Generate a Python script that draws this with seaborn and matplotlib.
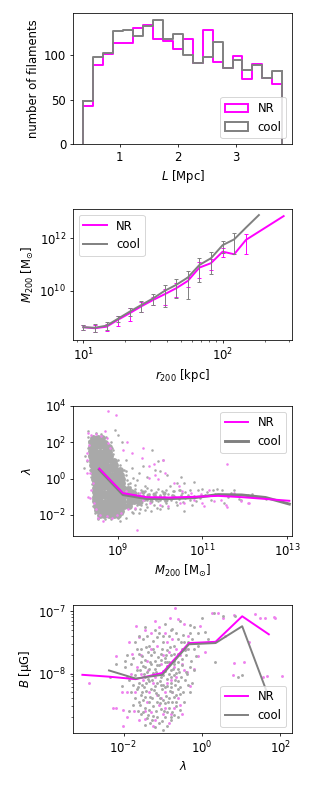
import numpy as np
import pandas as pd
import matplotlib
matplotlib.use("Agg")
import matplotlib.pyplot as plt
from matplotlib.patches import Patch
from matplotlib.ticker import NullLocator
import seaborn as sns

plt.rcParams["font.size"] = 12

# ---------------- panel 1: filament length histograms ----------------
L_EDGE_MIN, L_EDGE_MAX, N_BINS = 0.371, 3.80, 20
HIST_NR = [43, 89, 101, 114, 114, 131, 134, 118, 116, 107,
           118, 91, 128, 92, 85, 99, 73, 90, 74, 67]
HIST_COOL = [48, 98, 102, 127, 128, 122, 133, 140, 118, 124,
             100, 91, 98, 115, 85, 95, 83, 89, 74, 82]

# ---------------- panel 2: M200 vs r200 ----------------
R200_NR = [10, 12.1, 14.7, 17.8, 21.6, 26.1, 31.6, 38.3, 46.4, 56.2,
           68.1, 82.5, 100, 121, 147, 274]
LOGM_NR = [8.60, 8.56, 8.62, 8.89, 9.14, 9.40, 9.64, 9.86, 10.09, 10.37,
           10.88, 11.05, 11.49, 11.39, 11.94, 12.85]
RELERR_NR = [0.23, 0.28, 0.30, 0.43, 0.50, 0.40, 0.35, 0.60, 0.53, 0.40,
             0.60, 0.45, 0.38, 0.0, 0.72, 0.0]
R200_COOL = [10, 12.1, 14.7, 17.8, 21.6, 26.1, 31.6, 38.3, 46.4, 56.2,
             68.1, 82.5, 100, 121, 147, 182]
LOGM_COOL = [8.60, 8.58, 8.66, 8.93, 9.20, 9.45, 9.70, 9.99, 10.22, 10.50,
             10.98, 11.24, 11.74, 11.96, 12.41, 12.89]
RELERR_COOL = [0.23, 0.34, 0.34, 0.23, 0.34, 0.46, 0.42, 0.75, 0.69, 0.85,
               0.78, 0.75, 0.50, 0.72, 0.0, 0.0]

# ---------------- panel 3: lambda vs M200 ----------------
LOGM3_BINS = [8.57, 9.13, 9.69, 10.25, 10.81, 11.37, 11.93, 12.49, 13.05]
LOGLAM3_NR = [0.55, -0.80, -1.02, -1.04, -1.00, -0.95, -1.02, -1.12, -1.22]
LOGLAM3_COOL = [0.50, -0.88, -1.10, -1.10, -1.05, -0.88, -0.90, -1.04, -1.40]

# dense core of the cool halo cloud (log M, log lambda)
COOL3_CORE = [
    (8.42, 2.25), (8.53, 2.22), (8.64, 2.24),
    (8.38, 2.0), (8.49, 1.98), (8.60, 2.02), (8.71, 1.97),
    (8.37, 1.75), (8.48, 1.73), (8.59, 1.77), (8.70, 1.74), (8.79, 1.72),
    (8.37, 1.5), (8.48, 1.52), (8.59, 1.48), (8.70, 1.5), (8.80, 1.47),
    (8.38, 1.25), (8.49, 1.23), (8.60, 1.27), (8.71, 1.25), (8.82, 1.22),
    (8.39, 1.0), (8.50, 1.02), (8.61, 0.98), (8.72, 1.0), (8.83, 1.03), (8.92, 0.97),
    (8.40, 0.75), (8.51, 0.73), (8.62, 0.77), (8.73, 0.75), (8.84, 0.72), (8.95, 0.76),
    (8.42, 0.5), (8.53, 0.52), (8.64, 0.48), (8.75, 0.5), (8.86, 0.53), (8.97, 0.49), (9.06, 0.45),
    (8.44, 0.25), (8.55, 0.23), (8.66, 0.27), (8.77, 0.25), (8.88, 0.22), (8.99, 0.26), (9.08, 0.2),
    (8.45, 0.0), (8.56, 0.02), (8.67, -0.02), (8.78, 0.0), (8.89, 0.03), (9.00, -0.01), (9.10, 0.0),
    (8.46, -0.25), (8.57, -0.23), (8.68, -0.27), (8.79, -0.25), (8.90, -0.22), (9.01, -0.26), (9.11, -0.25),
    (8.47, -0.5), (8.58, -0.52), (8.69, -0.48), (8.80, -0.5), (8.91, -0.53), (9.02, -0.49), (9.13, -0.5), (9.24, -0.55),
    (8.47, -0.75), (8.58, -0.73), (8.69, -0.77), (8.80, -0.75), (8.91, -0.72), (9.02, -0.76), (9.13, -0.75),
    (9.24, -0.78), (9.36, -0.8),
    (8.48, -1.0), (8.59, -1.02), (8.70, -0.98), (8.81, -1.0), (8.92, -1.03), (9.03, -0.99), (9.14, -1.0),
    (9.26, -1.02), (9.38, -1.0), (9.50, -1.05),
    (8.48, -1.25), (8.59, -1.23), (8.70, -1.27), (8.81, -1.25), (8.92, -1.22), (9.03, -1.26), (9.14, -1.25),
    (9.26, -1.27), (9.38, -1.25), (9.50, -1.28),
    (8.50, -1.5), (8.61, -1.52), (8.72, -1.48), (8.83, -1.5), (8.94, -1.53), (9.05, -1.49), (9.16, -1.5),
    (9.28, -1.52),
    (8.52, -1.75), (8.63, -1.73), (8.74, -1.77), (8.85, -1.75), (8.96, -1.72), (9.07, -1.76),
    (8.58, -2.0), (8.69, -2.02), (8.80, -1.98), (8.91, -2.0), (9.02, -2.03),
]
# moderately dense band of cool halos right of the core
COOL3_BAND = [
    (9.25, -0.7), (9.30, -1.0), (9.32, -1.35), (9.40, -0.8), (9.42, -1.15), (9.50, -0.95),
    (9.55, -1.3), (9.60, -0.75), (9.65, -1.1), (9.72, -0.9), (9.78, -1.25), (9.85, -0.85),
    (9.90, -1.05), (10.0, -1.0), (10.1, -0.8), (10.15, -1.15), (10.3, -0.95),
]
# individual cool halos (log M, log lambda)
COOL3_PTS = [
    (9.30, -0.45), (9.35, -0.65), (9.42, -0.55), (9.48, -0.8), (9.55, -0.6), (9.60, -0.9),
    (9.65, -0.7), (9.70, -0.5), (9.75, -0.85), (9.80, -0.65), (9.85, -1.0), (9.90, -0.75),
    (9.95, -0.55), (10.0, -0.9), (10.05, -0.7), (10.1, -1.1), (10.15, -0.6), (10.2, -0.85),
    (10.3, -0.7), (10.35, -1.0), (10.45, -0.65), (10.5, -0.9), (10.6, -0.75), (10.7, -0.6),
    (10.8, -0.95), (9.30, -1.5), (9.40, -1.65), (9.45, -1.3), (9.55, -1.45), (9.62, -1.2),
    (9.70, -1.55), (9.78, -1.3), (9.85, -1.45), (9.95, -1.25), (10.05, -1.5), (10.15, -1.35),
    (10.25, -1.2), (10.4, -1.45), (10.55, -1.3), (10.7, -1.2), (9.40, -1.0), (9.50, -1.1),
    (9.60, -1.05), (9.70, -1.2), (9.80, -1.1), (9.90, -1.15), (10.0, -1.2), (10.1, -0.95),
    (10.25, -1.05), (10.45, -1.1), (10.6, -1.05), (9.35, -1.85), (9.50, -1.9), (9.65, -1.75),
    (9.80, -1.8), (10.0, -1.7), (10.9, -0.65), (11.0, -0.57), (11.12, -0.75), (11.24, -0.64),
    (11.35, -0.57), (11.47, -0.64), (11.67, -0.79), (11.87, -1.12), (12.07, -0.88),
    (12.18, -0.82), (10.56, -1.79), (10.84, -1.24), (11.2, -1.15), (11.51, -1.34),
    (11.91, -1.19), (11.05, -0.9), (11.3, -0.85), (11.6, -1.0), (12.3, -1.0), (12.5, -1.1),
    (11.75, -0.6), (8.23, 1.23), (8.27, 0.95), (8.20, 0.6), (9.81, 1.59), (10.07, 1.04),
    (9.96, 0.95), (9.88, 0.5), (10.16, 0.22), (10.24, -0.42), (10.4, -0.24), (10.32, -0.69),
    (9.37, 0.04), (9.45, -0.1), (9.65, -0.42), (9.21, 0.41), (9.29, -0.24), (8.54, -2.25),
    (9.06, -2.34), (9.37, -1.88), (9.21, -2.16), (9.53, -1.7), (10.48, -0.61), (10.56, -0.24),
    (9.20, 1.0), (9.35, 0.6), (9.50, 0.3), (9.70, 0.1), (10.0, 0.4), (9.10, 2.0), (9.00, 2.4),
    (8.95, 2.7), (8.30, 2.6), (8.90, 1.6), (9.60, 0.7), (10.5, 0.1), (10.8, -0.2),
    (8.30, 2.3), (8.33, 2.05), (8.31, 1.7), (8.32, 1.3), (8.35, 0.9), (8.36, 0.5), (8.38, 0.1),
    (8.40, -0.3), (8.41, -0.7), (8.42, -1.1), (8.43, -1.5), (8.47, -1.9), (8.55, -2.15),
    (8.70, -2.25), (8.85, -2.2), (9.00, -2.15), (9.10, -1.95), (8.50, 2.5), (8.62, 2.45),
    (8.72, 2.3), (8.85, 2.0), (8.88, 1.7), (8.90, 1.35), (9.00, 1.0), (9.05, 0.75),
    (9.15, 0.5), (9.20, 0.2), (9.22, -0.1), (9.25, -0.3),
    (9.33, -0.95), (9.45, -1.45), (9.58, -0.72), (9.72, -0.95), (9.88, -0.88), (10.02, -1.05),
    (10.12, -1.25), (10.28, -0.9), (10.38, -1.3), (10.52, -0.78), (10.65, -0.9), (9.3, -1.2),
    (9.42, -0.35), (9.68, -1.38), (9.92, -1.62), (10.2, -1.6), (10.75, -1.45), (10.95, -1.05),
]
NR3_PTS = [
    (8.30, 2.51), (8.38, 2.42), (8.50, 2.47), (8.62, 2.33), (8.74, 2.23), (8.78, 1.96),
    (8.82, 1.69), (8.33, 1.87), (8.27, 1.41), (8.28, 1.05), (8.27, 0.31), (8.36, 0.31),
    (8.30, -1.02), (8.44, -1.33), (8.50, -1.70), (8.58, -1.98), (8.74, -2.07), (8.86, -2.16),
    (8.98, -1.98), (9.09, -1.88), (9.25, -1.70), (9.41, -1.61), (9.46, -2.82), (8.78, 3.70),
    (8.96, 3.52), (8.70, 2.60), (9.13, 1.59), (9.33, 1.41), (9.57, 1.14), (9.61, 1.69),
    (9.75, 0.72), (9.85, 0.81), (10.08, 1.01), (10.12, 0.31), (9.88, 0.22), (9.73, 0.04),
    (9.96, -0.02), (10.32, -0.24), (10.44, -0.42), (9.21, -0.69), (9.53, -0.78), (9.77, -1.34),
    (10.0, -1.43), (10.2, -1.52), (9.61, -1.15), (10.48, -1.34), (8.42, -0.24), (8.38, -0.61),
    (8.54, -2.16), (8.66, -2.34), (9.22, 2.0), (8.35, -1.04), (11.59, 0.81), (10.53, -0.69),
    (10.96, -0.82), (11.04, -1.52), (11.16, -0.60), (11.28, -1.24), (11.43, -1.15),
    (11.55, -1.43), (11.91, -1.24), (12.10, -1.34), (10.56, -1.34), (10.80, -1.15),
    (10.72, -0.79), (11.75, -0.79), (11.0, -1.35), (11.59, -1.54), (12.07, -1.35),
]

# ---------------- panel 4: B vs lambda ----------------
LOGLAM4_NR = [-3.05, -2.37, -1.69, -1.01, -0.33, 0.35, 1.03, 1.71]
LOGB4_NR = [-8.02, -8.05, -8.09, -7.99, -7.51, -7.49, -7.08, -7.37]
LOGLAM4_COOL = [-2.37, -1.69, -1.01, -0.33, 0.35, 1.03, 1.71]
LOGB4_COOL = [-7.95, -8.08, -8.02, -7.53, -7.51, -7.24, -8.38]

COOL4_PTS = [
    (-1.45, -7.25), (-1.2, -7.3), (-0.95, -7.2), (-0.75, -7.28), (-0.55, -7.15), (-0.3, -7.22),
    (0.0, -7.1), (0.3, -7.02), (0.55, -7.07), (0.85, -7.07), (-0.21, -7.26), (0.08, -7.34),
    (-1.6, -7.4), (-1.7, -7.5), (-1.5, -7.45), (-1.35, -7.55), (-1.15, -7.42), (-1.0, -7.5),
    (-0.85, -7.4), (-0.7, -7.55), (-0.6, -7.45), (-0.45, -7.5), (-0.35, -7.6), (-0.51, -7.61),
    (-0.25, -7.45), (-1.25, -7.6), (-0.9, -7.62), (-1.55, -7.6), (-1.9, -7.7), (-1.75, -7.75),
    (-1.6, -7.68), (-1.45, -7.78), (-1.3, -7.7), (-1.2, -7.8), (-1.05, -7.68), (-0.95, -7.75),
    (-0.8, -7.7), (-0.7, -7.8), (-0.6, -7.68), (-0.5, -7.76), (-0.4, -7.7), (-0.28, -7.8),
    (-0.15, -7.72), (0.34, -7.82), (-1.38, -7.65), (-0.88, -7.82), (-2.2, -7.85), (-1.95, -7.9),
    (-1.8, -7.85), (-1.65, -7.95), (-1.5, -7.88), (-1.4, -7.98), (-1.3, -7.85), (-1.2, -7.92),
    (-1.1, -7.86), (-1.0, -7.96), (-0.9, -7.88), (-0.8, -7.95), (-0.7, -7.85), (-0.6, -7.93),
    (-0.5, -7.87), (-0.4, -7.98), (-0.3, -7.9), (-1.55, -7.82), (-1.25, -7.99), (-0.95, -7.82),
    (-0.65, -7.99), (0.93, -8.06), (1.02, -8.03), (-2.35, -8.05), (-1.85, -8.1), (-1.7, -8.02),
    (-1.6, -8.15), (-1.45, -8.05), (-1.35, -8.12), (-1.25, -8.03), (-1.15, -8.15), (-1.05, -8.05),
    (-0.98, -8.18), (-0.9, -8.08), (-0.8, -8.15), (-0.72, -8.02), (-0.62, -8.12), (-0.52, -8.05),
    (-0.43, -8.11), (-0.35, -8.18), (-1.52, -8.18), (-1.2, -8.2), (-0.85, -8.0), (-0.68, -8.19),
    (-1.8, -8.3), (-1.65, -8.25), (-1.55, -8.35), (-1.42, -8.28), (-1.32, -8.38), (-1.22, -8.26),
    (-1.12, -8.34), (-1.02, -8.25), (-0.92, -8.36), (-0.82, -8.28), (-0.72, -8.38), (-0.62, -8.25),
    (-0.55, -8.33), (-0.47, -8.3), (-1.48, -8.22), (-1.08, -8.4), (-0.78, -8.21), (-1.75, -8.5),
    (-1.6, -8.45), (-1.45, -8.55), (-1.35, -8.45), (-1.25, -8.52), (-1.15, -8.46), (-1.05, -8.57),
    (-0.95, -8.48), (-0.85, -8.55), (-0.75, -8.45), (-0.65, -8.52), (-0.55, -8.58), (-1.5, -8.42),
    (-1.0, -8.42), (-1.55, -8.65), (-1.4, -8.72), (-1.25, -8.68), (-1.1, -8.8), (-0.95, -8.7),
    (-0.8, -8.75), (-0.7, -8.66), (-1.2, -8.86), (-1.0, -8.9), (-0.6, -8.7), (-1.32, -8.8),
    (-0.3, -7.35), (-0.1, -7.55), (0.15, -7.45),
    (-1.58, -7.95), (-1.48, -8.0), (-1.38, -8.08), (-1.28, -8.1), (-1.18, -7.98), (-1.08, -8.12),
    (-0.98, -8.02), (-0.88, -8.2), (-0.78, -8.06), (-0.68, -8.1), (-0.58, -7.98), (-1.62, -8.22),
    (-1.52, -8.3), (-1.42, -8.15), (-1.3, -8.25), (-1.18, -8.32), (-1.05, -8.18), (-0.95, -8.22),
    (-0.85, -8.4), (-0.75, -8.3), (-0.65, -8.35), (-1.7, -8.4), (-1.58, -8.5), (-1.46, -8.38),
    (-1.36, -8.58), (-1.26, -8.4), (-1.16, -8.6), (-1.06, -8.48), (-0.96, -8.6), (-0.86, -8.45),
    (-0.76, -8.62), (-0.66, -8.45), (-1.5, -8.62), (-1.38, -8.66), (-1.28, -8.75), (-1.15, -8.7),
    (-1.02, -8.76), (-0.9, -8.62), (-0.78, -8.7), (-1.45, -8.82), (-0.88, -8.85), (-1.65, -7.6),
    (-1.52, -7.72), (-1.42, -7.58), (-1.32, -7.82), (-1.22, -7.66), (-1.12, -7.74), (-1.02, -7.6),
    (-0.92, -7.7), (-0.82, -7.58), (-0.72, -7.68), (-0.62, -7.82), (-0.52, -7.5), (-0.42, -7.62),
    (-1.4, -7.4), (-1.25, -7.48), (-1.1, -7.35), (-0.98, -7.4), (-0.8, -7.3), (-0.65, -7.35),
    (-0.48, -7.38), (-0.36, -7.5), (-0.2, -7.6), (-0.1, -7.35), (-1.75, -8.18), (-1.9, -8.05),
    (-2.05, -8.2), (-1.85, -8.6), (-1.95, -7.8), (-1.62, -8.6), (-0.55, -8.22), (-0.45, -8.45),
    (-0.38, -8.0), (-0.3, -8.3), (-0.2, -7.95), (-0.25, -8.15), (-1.34, -7.92), (-1.14, -7.86),
    (-0.94, -7.96), (-0.74, -7.92), (-1.44, -7.9), (-1.04, -7.78), (-0.84, -7.82),
]
NR4_PTS = [
    (-2.87, -8.15), (-2.26, -8.56), (-2.18, -8.56), (-2.01, -8.58), (-2.02, -8.85),
    (-2.2, -7.72), (-1.67, -7.23), (-1.79, -7.69), (-1.6, -7.42), (-1.45, -7.3), (-1.3, -7.35),
    (-1.1, -7.25), (-0.82, -7.1), (-0.69, -6.95), (-0.6, -7.12), (-0.45, -7.2), (-1.9, -8.3),
    (-1.8, -8.0), (-1.72, -8.6), (-1.6, -8.75), (-1.46, -8.73), (-1.3, -8.62), (-1.2, -8.75),
    (-1.0, -8.65), (-0.85, -8.8), (-0.7, -8.55), (-0.6, -8.4), (-0.5, -8.65), (-1.65, -7.9),
    (-1.5, -8.1), (-1.38, -7.95), (-1.2, -8.05), (-1.05, -7.85), (-0.95, -8.3), (-0.8, -8.1),
    (-0.7, -7.9), (-0.55, -7.7), (-0.45, -7.95), (-1.4, -8.45), (-1.1, -8.5), (-1.3, -7.6),
    (-0.9, -7.5), (-0.65, -7.6), (-0.35, -7.4), (-0.04, -7.23), (0.25, -7.03), (0.42, -7.02),
    (0.55, -7.11), (0.81, -7.06), (1.36, -7.04), (1.49, -7.10), (1.61, -7.11), (1.87, -7.10),
    (1.83, -7.09), (0.81, -7.83), (0.79, -8.03), (1.67, -8.04), (2.04, -8.04), (0.08, -7.66),
    (-0.38, -7.98), (-0.21, -7.93), (-0.09, -7.71), (1.08, -7.82), (1.55, -8.06), (0.6, -7.4),
    (1.2, -7.5),
    (-1.55, -8.0), (-1.35, -8.3), (-1.25, -8.15), (-1.15, -8.35), (-0.9, -8.15), (-0.75, -8.3),
    (-0.65, -8.05), (-0.55, -8.5), (-1.45, -8.6), (-1.25, -8.85), (-1.05, -8.4), (-0.95, -8.55),
    (-0.8, -8.65), (-1.7, -8.3), (-1.55, -7.7), (-1.4, -7.8), (-1.15, -7.55), (-1.0, -7.7),
    (-0.85, -7.65), (-0.75, -7.45), (-0.5, -7.85), (-0.4, -7.6), (-1.85, -7.5), (-2.05, -8.3),
    (-1.2, -7.15), (-0.95, -7.35), (-1.9, -8.7), (-0.3, -8.2),
]

MAGENTA, GRAY = "magenta", "gray"
PT_NR, PT_COOL = "violet", "darkgray"
S_PT = 7
S_PT4 = 9

DPI = 70
fig = plt.figure(figsize=(315 / DPI, 790 / DPI), dpi=DPI)
L, W = 0.2317, 0.6963
ax1 = fig.add_axes([L, 0.8177, W, 0.1654])
ax2 = fig.add_axes([L, 0.5696, W, 0.1658])
ax3 = fig.add_axes([L, 0.3215, W, 0.1646])
ax4 = fig.add_axes([L, 0.0725, W, 0.1616])

# ---- panel 1
edges = np.linspace(L_EDGE_MIN, L_EDGE_MAX, N_BINS + 1)
centers = 0.5 * (edges[:-1] + edges[1:])
for counts, col in [(HIST_NR, MAGENTA), (HIST_COOL, GRAY)]:
    df = pd.DataFrame({"L": centers, "n": np.asarray(counts, dtype=float)})
    sns.histplot(data=df, x="L", weights="n", bins=list(edges), element="step",
                 fill=False, color=col, linewidth=2, ax=ax1)
    ax1.vlines([edges[0], edges[-1]], 0, [counts[0], counts[-1]], color=col, lw=2)
ax1.set_ylim(0, 147)
ax1.set_yticks([0, 50, 100])
ax1.set_xticks([1, 2, 3])
ax1.set_xlabel("$L$ [Mpc]")
ax1.set_ylabel("number of filaments")
ax1.legend(handles=[Patch(facecolor="none", edgecolor=MAGENTA, lw=2, label="NR"),
                    Patch(facecolor="none", edgecolor=GRAY, lw=2, label="cool")],
           loc="lower right")

# ---- panel 2
ax2.set_xscale("log")
ax2.set_yscale("log")
for r, lm, fe, col, lab in [(R200_NR, LOGM_NR, RELERR_NR, MAGENTA, "NR"),
                            (R200_COOL, LOGM_COOL, RELERR_COOL, GRAY, "cool")]:
    r = np.array(r); m = 10 ** np.array(lm); fe = np.array(fe)
    ok = fe > 0
    ax2.errorbar(r[ok], m[ok], yerr=fe[ok] * m[ok], fmt="none", ecolor=col,
                 elinewidth=1, capsize=2)
    sns.lineplot(x=r, y=m, color=col, lw=2, label=lab, sort=False,
                 estimator=None, ax=ax2)
ax2.set_yticks([1e10, 1e12])
ax2.yaxis.set_minor_locator(NullLocator())
ax2.set_xlim(10 ** 0.926, 10 ** 2.5)
ax2.set_ylim(10 ** 8.11, 10 ** 13.12)
ax2.set_xlabel("$r_{200}$ [kpc]")
ax2.set_ylabel(r"$M_{200}$ [M$_{\odot}$]")
ax2.legend(loc="upper left")

# ---- panel 3
ax3.set_xscale("log")
ax3.set_yscale("log")
core = np.array(COOL3_CORE); band = np.array(COOL3_BAND)
pts = np.array(COOL3_PTS); nrp = np.array(NR3_PTS)
sns.scatterplot(x=10 ** core[:, 0], y=10 ** core[:, 1], s=50, color=PT_COOL,
                linewidth=0, ax=ax3)
sns.scatterplot(x=10 ** band[:, 0], y=10 ** band[:, 1], s=18, color=PT_COOL,
                linewidth=0, ax=ax3)
sns.scatterplot(x=10 ** pts[:, 0], y=10 ** pts[:, 1], s=S_PT, color=PT_COOL,
                linewidth=0, ax=ax3)
sns.scatterplot(x=10 ** nrp[:, 0], y=10 ** nrp[:, 1], s=S_PT, color=PT_NR,
                linewidth=0, ax=ax3)
mb = 10 ** np.array(LOGM3_BINS)
sns.lineplot(x=mb, y=10 ** np.array(LOGLAM3_COOL), color=GRAY, lw=3,
             label="cool", sort=False, estimator=None, ax=ax3)
sns.lineplot(x=mb, y=10 ** np.array(LOGLAM3_NR), color=MAGENTA, lw=2,
             label="NR", sort=False, estimator=None, ax=ax3)
ax3.set_xticks([1e9, 1e11, 1e13])
ax3.set_yticks([1e-2, 1e0, 1e2, 1e4])
ax3.xaxis.set_minor_locator(NullLocator())
ax3.yaxis.set_minor_locator(NullLocator())
ax3.set_xlim(10 ** 7.95, 10 ** 13.12)
ax3.set_ylim(10 ** -3.16, 10 ** 4.0)
ax3.set_xlabel(r"$M_{200}$ [M$_{\odot}$]")
ax3.set_ylabel(r"$\lambda$")
h, l = ax3.get_legend_handles_labels()
order = [l.index("NR"), l.index("cool")]
ax3.legend([h[i] for i in order], [l[i] for i in order], loc="upper right")

# ---- panel 4
ax4.set_xscale("log")
ax4.set_yscale("log")
c4 = np.array(COOL4_PTS); n4 = np.array(NR4_PTS)
sns.scatterplot(x=10 ** n4[:, 0], y=10 ** n4[:, 1], s=S_PT4, color=PT_NR,
                linewidth=0, ax=ax4)
sns.scatterplot(x=10 ** c4[:, 0], y=10 ** c4[:, 1], s=S_PT4, color=PT_COOL,
                linewidth=0, ax=ax4)
sns.lineplot(x=10 ** np.array(LOGLAM4_NR), y=10 ** np.array(LOGB4_NR),
             color=MAGENTA, lw=2, label="NR", sort=False, estimator=None, ax=ax4)
sns.lineplot(x=10 ** np.array(LOGLAM4_COOL), y=10 ** np.array(LOGB4_COOL),
             color=GRAY, lw=2, label="cool", sort=False, estimator=None, ax=ax4)
ax4.set_xticks([1e-2, 1e0, 1e2])
ax4.xaxis.set_minor_locator(NullLocator())
ax4.set_xlim(10 ** -3.29, 10 ** 2.31)
ax4.set_ylim(10 ** -8.95, 10 ** -6.9)
ax4.set_xlabel(r"$\lambda$")
ax4.set_ylabel("$B$ [μG]")
ax4.legend(loc="lower right")

fig.savefig("out.png", dpi=DPI)
